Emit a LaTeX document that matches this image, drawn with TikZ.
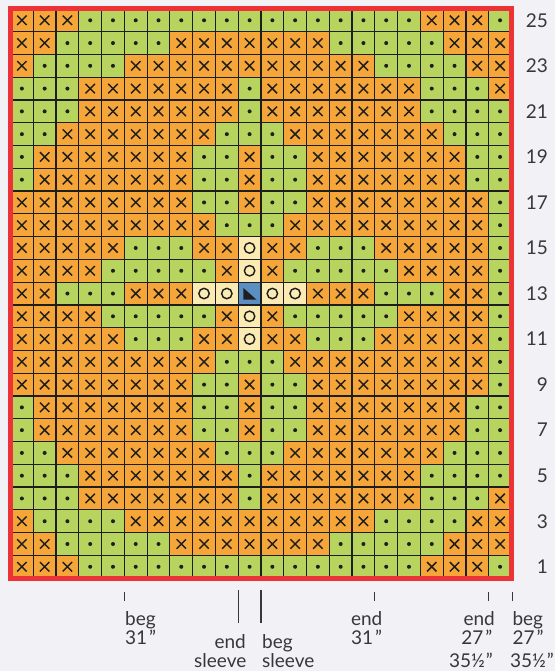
\documentclass[tikz,border=0pt]{standalone}
\usepackage{fontspec}
\setmainfont{Lato}
\definecolor{bg}{HTML}{F2F2F6}
\definecolor{cor}{HTML}{F6A638}
\definecolor{cgr}{HTML}{B7D45E}
\definecolor{ccr}{HTML}{FBEBB3}
\definecolor{cbl}{HTML}{5B8FC2}
\definecolor{cred}{HTML}{EC3237}
\definecolor{ink}{HTML}{1E1E1E}
\definecolor{txt}{HTML}{383838}
\newcommand\cellX{\fill[cor] (\cx-11.385,\cy-11.385) rectangle ++(22.77,22.77);
  \draw[sym] (\cx-4.7,\cy-4.7) -- (\cx+4.7,\cy+4.7) (\cx-4.7,\cy+4.7) -- (\cx+4.7,\cy-4.7);}
\newcommand\cellD{\fill[cgr] (\cx-11.385,\cy-11.385) rectangle ++(22.77,22.77);
  \fill[ink] (\cx,\cy) circle[radius=2];}
\newcommand\cellO{\fill[ccr] (\cx-11.385,\cy-11.385) rectangle ++(22.77,22.77);
  \draw[sym] (\cx,\cy) circle[radius=5.2];}
\newcommand\cellB{\fill[cbl] (\cx-11.385,\cy-11.385) rectangle ++(22.77,22.77);
  \fill[ink] (\cx-6.3,\cy-5.6) -- (\cx-6.3,\cy+6.2) -- (\cx+7,\cy+6.2) -- cycle;}
\begin{document}
\begin{tikzpicture}[x=1pt,y=-1pt,
  sym/.style={ink,line width=1.45},
  gridl/.style={ink,line width=1.2},
  tickl/.style={txt,line width=1.1},
  lbl/.style={txt,inner sep=0pt,font=\fontsize{19}{23}\selectfont}]
\fill[bg] (0,0) rectangle (555,671);
\useasboundingbox (0,0) rectangle (555,671);
\foreach \rowlist [count=\r] in {
{X,X,X,D,D,D,D,D,D,D,D,D,D,D,D,D,D,D,X,X,X,D},
{X,X,D,D,D,D,D,X,X,X,X,X,X,X,D,D,D,D,D,X,X,X},
{X,D,D,D,D,X,X,X,X,X,X,X,X,X,X,X,D,D,D,D,X,X},
{D,D,D,X,X,X,X,X,X,X,D,X,X,X,X,X,X,X,D,D,D,X},
{D,D,D,X,X,X,X,X,X,X,D,X,X,X,X,X,X,X,D,D,D,D},
{D,D,X,X,X,X,X,X,X,D,D,D,X,X,X,X,X,X,X,D,D,D},
{D,X,X,X,X,X,X,X,D,D,X,D,D,X,X,X,X,X,X,X,D,D},
{D,X,X,X,X,X,X,X,D,D,X,D,D,X,X,X,X,X,X,X,D,D},
{X,X,X,X,X,X,X,X,D,D,X,D,D,X,X,X,X,X,X,X,X,D},
{X,X,X,X,X,X,X,X,X,D,D,D,X,X,X,X,X,X,X,X,X,D},
{X,X,X,X,X,D,D,D,X,X,O,X,X,D,D,D,X,X,X,X,X,D},
{X,X,X,X,D,D,D,D,D,X,O,X,D,D,D,D,D,X,X,X,X,D},
{X,X,D,D,D,X,X,X,O,O,B,O,O,X,X,X,D,D,D,X,X,D},
{X,X,X,X,D,D,D,D,D,X,O,X,D,D,D,D,D,X,X,X,X,D},
{X,X,X,X,X,D,D,D,X,X,O,X,X,D,D,D,X,X,X,X,X,D},
{X,X,X,X,X,X,X,X,X,D,D,D,X,X,X,X,X,X,X,X,X,D},
{X,X,X,X,X,X,X,X,D,D,X,D,D,X,X,X,X,X,X,X,X,D},
{D,X,X,X,X,X,X,X,D,D,X,D,D,X,X,X,X,X,X,X,D,D},
{D,X,X,X,X,X,X,X,D,D,X,D,D,X,X,X,X,X,X,X,D,D},
{D,D,X,X,X,X,X,X,X,D,D,D,X,X,X,X,X,X,X,D,D,D},
{D,D,D,X,X,X,X,X,X,X,D,X,X,X,X,X,X,X,D,D,D,D},
{D,D,D,X,X,X,X,X,X,X,D,X,X,X,X,X,X,X,D,D,D,X},
{X,D,D,D,D,X,X,X,X,X,X,X,X,X,X,X,D,D,D,D,X,X},
{X,X,D,D,D,D,D,X,X,X,X,X,X,X,D,D,D,D,D,X,X,X},
{X,X,X,D,D,D,D,D,D,D,D,D,D,D,D,D,D,D,X,X,X,D}} {
  \foreach \s [count=\col] in \rowlist {
    \pgfmathsetmacro\cx{10.5+(\col-0.5)*22.77}
    \pgfmathsetmacro\cy{8.9+(\r-0.5)*22.77}
    \csname cell\s\endcsname
  }
}
\foreach \i in {0,...,22} \draw[gridl] (10.5+\i*22.77,8.9) -- (10.5+\i*22.77,578.15);
\foreach \j in {0,...,25} \draw[gridl] (10.5,8.9+\j*22.77) -- (511.44,8.9+\j*22.77);
\draw[cred,line width=5] (10.5,8.9) rectangle (511.44,578.15);
% row numbers
\foreach \n in {1,3,...,25} {
  \pgfmathsetmacro\ry{8.9+(25.5-\n)*22.77}
  \node[lbl,anchor=east] (row\n) at (548,\ry) {\n};
}
% ticks
\foreach \tx in {124.35,374.8,488.7,512.3} \draw[tickl] (\tx,591.7) -- (\tx,600.7);
\foreach \tx in {238.2,260.97} \draw[tickl] (\tx,590) -- (\tx,623.3);
% bottom labels
\node[lbl,anchor=base west] (a1) at (125,625.5) {beg};
\node[lbl,anchor=base west] (a2) at (125,644.3) {31\kern2pt"};
\node[lbl,anchor=base east] (b1) at (246,648.3) {end};
\node[lbl,anchor=base east] (b2) at (246.5,667) {sleeve};
\node[lbl,anchor=base west] (c1) at (262,648.3) {beg};
\node[lbl,anchor=base west] (c2) at (262,667) {sleeve};
\node[lbl,anchor=base] (d1) at (366.7,625.5) {end};
\node[lbl,anchor=base] (d2) at (366.7,644.3) {31\kern2pt"};
\node[lbl,anchor=base east] (e1) at (495,625.5) {end};
\node[lbl,anchor=base east] (e2) at (492.5,644.3) {27\kern2pt"};
\node[lbl,anchor=base east] (e3) at (493,667) {35½\kern1pt"};
\node[lbl,anchor=base west] (f1) at (512.3,625.5) {beg};
\node[lbl,anchor=base west] (f2) at (512.3,644.3) {27\kern2pt"};
\node[lbl,anchor=base east] (f3) at (554,667) {35½\kern1pt"};
\end{tikzpicture}
\end{document}
